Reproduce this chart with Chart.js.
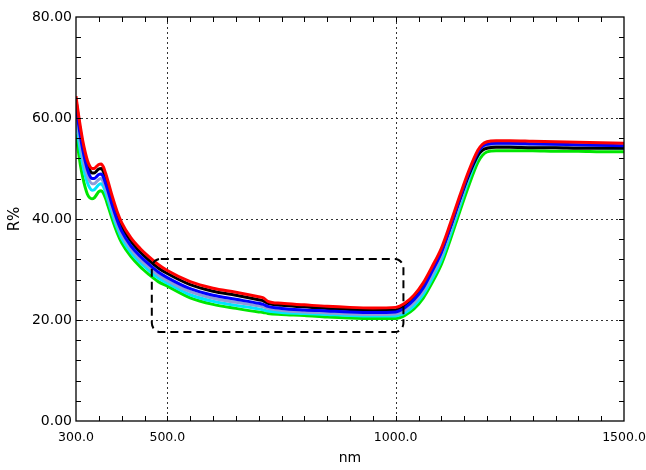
<!DOCTYPE html>
<html lang="en">
<head>
    <meta charset="UTF-8">
    <title>Reflectance</title>
    <script src="https://cdn.jsdelivr.net/npm/chart.js"></script>
    <style>
        html, body { margin: 0; padding: 0; background: #fff; }
        #wrap { width: 646px; height: 470px; }
    </style>
</head>
<body>
    <div id="wrap"><canvas id="reflChart" width="646" height="470"></canvas></div>

    <script>
        // wavelength (nm) and R%
        const wavelength = [300, 305, 310, 315, 320, 325, 330, 335, 340, 345, 350, 355, 360, 365, 370, 380, 390, 400, 420, 440, 460, 480, 500, 550, 600, 650, 700, 710, 720, 750, 800, 850, 900, 950, 1000, 1010, 1020, 1040, 1060, 1080, 1100, 1120, 1140, 1160, 1180, 1190, 1200, 1220, 1250, 1300, 1350, 1400, 1450, 1500];

        const redR   = [64.3, 61.0, 58.0, 55.4, 53.3, 51.6, 50.5, 50.0, 50.0, 50.4, 50.8, 50.9, 50.3, 49.0, 47.5, 44.3, 41.5, 39.3, 36.3, 34.2, 32.5, 31.0, 29.8, 27.6, 26.3, 25.5, 24.6, 24.4, 23.7, 23.3, 23.0, 22.7, 22.5, 22.4, 22.5, 22.8, 23.3, 24.9, 27.3, 30.6, 34.2, 39.2, 44.5, 49.5, 53.6, 54.8, 55.3, 55.5, 55.5, 55.4, 55.3, 55.2, 55.1, 55.0];
        const blackR = [63.6, 60.2, 57.2, 54.6, 52.5, 50.8, 49.7, 49.1, 49.1, 49.5, 49.9, 50.0, 49.4, 48.1, 46.6, 43.5, 40.7, 38.5, 35.6, 33.5, 31.8, 30.3, 29.2, 27.0, 25.7, 24.9, 24.0, 23.8, 23.3, 22.9, 22.6, 22.3, 22.1, 22.0, 22.0, 22.3, 22.8, 24.3, 26.7, 30.0, 33.6, 38.5, 43.8, 48.7, 52.6, 53.6, 54.0, 54.2, 54.2, 54.1, 54.1, 54.0, 54.0, 54.0];
        const blueR  = [62.6, 59.2, 56.2, 53.6, 51.5, 49.8, 48.6, 48.0, 48.0, 48.4, 48.8, 48.9, 48.3, 47.0, 45.6, 42.5, 39.8, 37.6, 34.7, 32.7, 31.0, 29.5, 28.4, 26.2, 24.9, 24.1, 23.3, 23.1, 22.7, 22.3, 22.0, 21.8, 21.6, 21.5, 21.6, 21.9, 22.4, 24.0, 26.3, 29.7, 33.4, 38.5, 43.9, 49.1, 53.2, 54.4, 54.8, 55.0, 55.0, 54.9, 54.8, 54.7, 54.6, 54.5];
        const lightR = [61.2, 57.8, 54.8, 52.2, 50.2, 48.6, 47.5, 47.0, 47.0, 47.4, 47.8, 48.0, 47.3, 46.1, 44.7, 41.7, 39.0, 36.9, 34.1, 32.0, 30.4, 28.9, 27.8, 25.6, 24.3, 23.5, 22.8, 22.6, 22.3, 21.9, 21.6, 21.4, 21.2, 21.1, 21.2, 21.4, 21.9, 23.4, 25.7, 29.0, 32.7, 37.8, 43.2, 48.5, 52.8, 54.0, 54.4, 54.6, 54.6, 54.5, 54.4, 54.3, 54.2, 54.1];
        const cyanR  = [59.6, 56.2, 53.2, 50.7, 48.7, 47.2, 46.2, 45.7, 45.8, 46.3, 46.8, 47.0, 46.4, 45.2, 43.8, 40.9, 38.3, 36.2, 33.4, 31.4, 29.8, 28.3, 27.3, 25.0, 23.7, 22.9, 22.2, 22.0, 21.8, 21.5, 21.3, 21.1, 20.9, 20.8, 20.8, 21.0, 21.4, 22.8, 25.0, 28.2, 31.9, 37.0, 42.4, 47.8, 52.3, 53.7, 54.2, 54.4, 54.4, 54.3, 54.2, 54.2, 54.1, 54.0];
        const greenR = [56.8, 53.5, 50.5, 48.2, 46.3, 44.9, 44.2, 44.0, 44.2, 44.8, 45.4, 45.6, 45.1, 44.0, 42.6, 39.8, 37.3, 35.3, 32.6, 30.6, 29.0, 27.6, 26.7, 24.4, 23.1, 22.3, 21.6, 21.5, 21.3, 21.1, 20.9, 20.6, 20.4, 20.3, 20.3, 20.5, 20.9, 22.2, 24.3, 27.4, 31.0, 36.0, 41.4, 46.6, 51.2, 52.6, 53.3, 53.5, 53.5, 53.5, 53.4, 53.4, 53.3, 53.3];

        const xTickLabels = [300, 500, 1000, 1500];
        const yTickLabels = [0, 20, 40, 60, 80];
        const xGridLines = [500, 1000];
        const yGridLines = [20, 40, 60];

        // dashed box drawn over the curves (data units)
        const boxNm = [466, 1017];
        const boxR = [17.6, 32.1];

        function toPoints(values) {
            return wavelength.map((w, i) => ({ x: w, y: values[i] }));
        }

        function roundedRect(ctx, x0, y0, x1, y1, r) {
            ctx.beginPath();
            ctx.moveTo(x0 + r, y0);
            ctx.lineTo(x1 - r, y0);
            ctx.arcTo(x1, y0, x1, y0 + r, r);
            ctx.lineTo(x1, y1 - r);
            ctx.arcTo(x1, y1, x1 - r, y1, r);
            ctx.lineTo(x0 + r, y1);
            ctx.arcTo(x0, y1, x0, y1 - r, r);
            ctx.lineTo(x0, y0 + r);
            ctx.arcTo(x0, y0, x0 + r, y0, r);
            ctx.closePath();
        }

        const framePlugin = {
            id: 'frame',
            beforeDatasetsDraw(chart) {
                const { ctx, chartArea: a, scales: { x, y } } = chart;
                ctx.save();
                ctx.strokeStyle = '#333';
                ctx.lineWidth = 1;
                ctx.setLineDash([2, 3]);
                xGridLines.forEach(v => {
                    const px = Math.round(x.getPixelForValue(v)) + 0.5;
                    ctx.beginPath();
                    ctx.moveTo(px, a.top);
                    ctx.lineTo(px, a.bottom);
                    ctx.stroke();
                });
                yGridLines.forEach(v => {
                    const py = Math.round(y.getPixelForValue(v)) + 0.5;
                    ctx.beginPath();
                    ctx.moveTo(a.left, py);
                    ctx.lineTo(a.right, py);
                    ctx.stroke();
                });
                ctx.restore();
            },
            afterDatasetsDraw(chart) {
                const { ctx, chartArea: a, scales: { x, y } } = chart;
                ctx.save();
                // dashed rounded box
                ctx.strokeStyle = '#000';
                ctx.lineWidth = 2;
                ctx.setLineDash([8, 5]);
                roundedRect(ctx,
                    x.getPixelForValue(boxNm[0]), y.getPixelForValue(boxR[1]),
                    x.getPixelForValue(boxNm[1]), y.getPixelForValue(boxR[0]), 9);
                ctx.stroke();

                // frame
                ctx.setLineDash([]);
                ctx.lineWidth = 1.3;
                ctx.strokeRect(a.left, a.top, a.right - a.left, a.bottom - a.top);

                // inward tick marks
                ctx.lineWidth = 1;
                ctx.beginPath();
                for (let v = 350; v < 1500; v += 50) {
                    const px = Math.round(x.getPixelForValue(v)) + 0.5;
                    ctx.moveTo(px, a.bottom); ctx.lineTo(px, a.bottom - 5);
                    ctx.moveTo(px, a.top); ctx.lineTo(px, a.top + 5);
                }
                for (let v = 4; v < 80; v += 4) {
                    const py = Math.round(y.getPixelForValue(v)) + 0.5;
                    ctx.moveTo(a.left, py); ctx.lineTo(a.left + 5, py);
                    ctx.moveTo(a.right, py); ctx.lineTo(a.right - 5, py);
                }
                ctx.stroke();
                ctx.restore();
            }
        };

        const font = { family: 'DejaVu Sans', size: 14 };

        const lineStyle = {
            borderWidth: 3,
            pointRadius: 0,
            fill: false,
            cubicInterpolationMode: 'monotone'
        };

        new Chart(document.getElementById('reflChart'), {
            type: 'line',
            data: {
                datasets: [
                    { ...lineStyle, data: toPoints(redR), borderColor: '#ff0000' },
                    { ...lineStyle, data: toPoints(blueR), borderColor: '#0000ff' },
                    { ...lineStyle, data: toPoints(blackR), borderColor: '#000000' },
                    { ...lineStyle, data: toPoints(lightR), borderColor: '#8c9cd8' },
                    { ...lineStyle, data: toPoints(cyanR), borderColor: '#00e5ff' },
                    { ...lineStyle, data: toPoints(greenR), borderColor: '#00e600' }
                ]
            },
            options: {
                responsive: false,
                animation: false,
                layout: { padding: { top: 17, right: 22, left: 0, bottom: 0 } },
                plugins: { legend: { display: false }, tooltip: { enabled: false } },
                scales: {
                    x: {
                        type: 'linear',
                        min: 300,
                        max: 1500,
                        afterBuildTicks: s => { s.ticks = xTickLabels.map(v => ({ value: v })); },
                        afterFit: s => { s.height = 49; s.paddingLeft = 0; s.paddingRight = 0; },
                        grid: { display: false, drawTicks: false },
                        border: { display: false },
                        ticks: {
                            font: { family: 'DejaVu Sans', size: 12.5 }, color: '#000', padding: 9,
                            maxRotation: 0, autoSkip: false,
                            callback: v => Number(v).toFixed(1)
                        },
                        title: { display: true, text: 'nm', font: font, color: '#000', padding: 3 }
                    },
                    y: {
                        min: 0,
                        max: 80,
                        afterBuildTicks: s => { s.ticks = yTickLabels.map(v => ({ value: v })); },
                        afterFit: s => { s.width = 76; s.paddingTop = 0; s.paddingBottom = 0; },
                        grid: { display: false, drawTicks: false },
                        border: { display: false },
                        ticks: {
                            font: font, color: '#000', padding: 4,
                            callback: v => Number(v).toFixed(2)
                        },
                        title: { display: true, text: 'R%', font: { family: 'DejaVu Sans', size: 15 }, color: '#000', padding: 6 }
                    }
                }
            },
            plugins: [framePlugin]
        });
    </script>
</body>
</html>
